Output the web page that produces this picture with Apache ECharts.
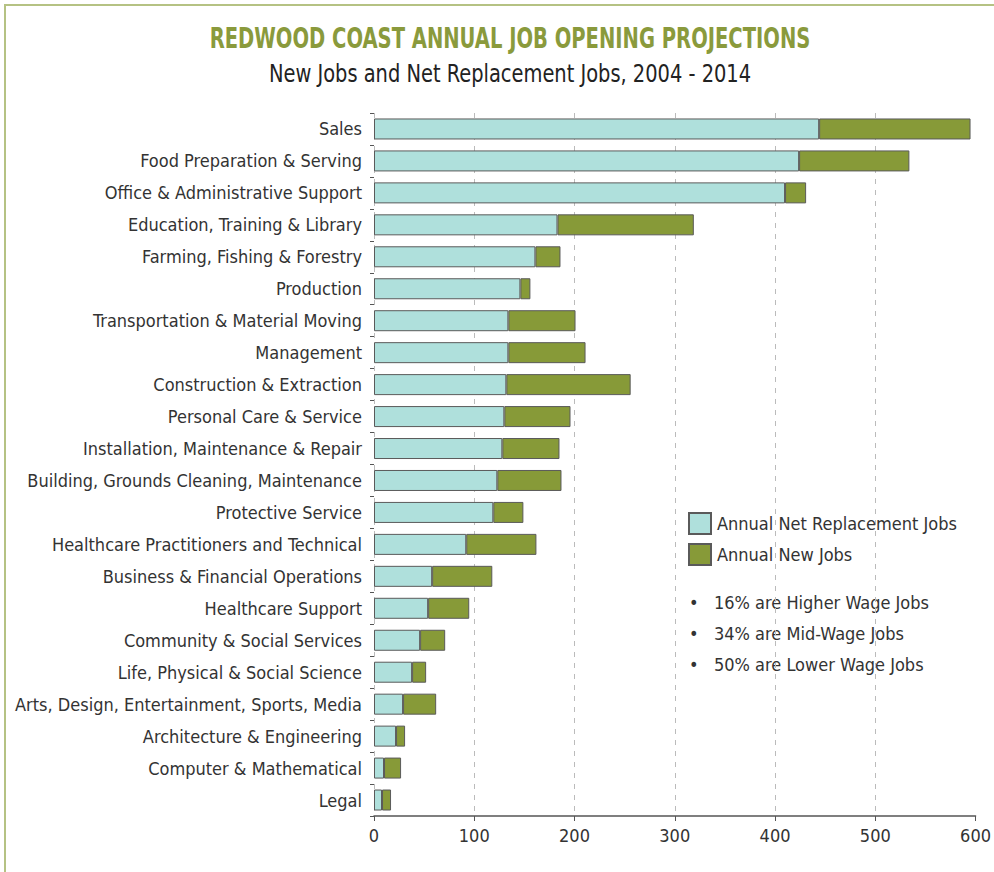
<!DOCTYPE html>
<html>
<head>
<meta charset="utf-8">
<script src="https://cdn.jsdelivr.net/npm/echarts@6/dist/echarts.min.js"></script>
<style>
html,body{margin:0;padding:0;background:#fff;}
#chart{width:994px;height:872px;}
</style>
</head>
<body>
<div id="chart"></div>
<script>
const categories = [
  "Sales",
  "Food Preparation & Serving",
  "Office & Administrative Support",
  "Education, Training & Library",
  "Farming, Fishing & Forestry",
  "Production",
  "Transportation & Material Moving",
  "Management",
  "Construction & Extraction",
  "Personal Care & Service",
  "Installation, Maintenance & Repair",
  "Building, Grounds Cleaning, Maintenance",
  "Protective Service",
  "Healthcare Practitioners and Technical",
  "Business & Financial Operations",
  "Healthcare Support",
  "Community & Social Services",
  "Life, Physical & Social Science",
  "Arts, Design, Entertainment, Sports, Media",
  "Architecture & Engineering",
  "Computer & Mathematical",
  "Legal"
];
const replacementJobs = [444,424,410,183,161,146,134,134,132,130,128,123,119,92,58,54,46,38,29,22,10,8];
const newJobs = [151,110,21,136,25,10,67,77,124,66,57,64,30,70,60,41,25,14,33,9,17,9];
const xTicks = [0,100,200,300,400,500,600];
const seriesNames = ["Annual Net Replacement Jobs","Annual New Jobs"];
const notes = ["16% are Higher Wage Jobs","34% are Mid-Wage Jobs","50% are Lower Wage Jobs"];
const titleText = 'REDWOOD COAST ANNUAL JOB OPENING PROJECTIONS';
const subtitleText = 'New Jobs and Net Replacement Jobs, 2004 - 2014';

const FONT = '"Liberation Sans Narrow","DejaVu Sans Condensed","DejaVu Sans",sans-serif';
const chart = echarts.init(document.getElementById('chart'), null, {renderer:'svg'});
const option = {
  backgroundColor:'#ffffff',
  animation:false,
  textStyle:{fontFamily:FONT},
  legend:{
    orient:'vertical', left:683, top:507, itemWidth:22, itemHeight:21, itemGap:8,
    icon:'rect',
    data:seriesNames,
    textStyle:{fontFamily:FONT, fontSize:18, color:'#333', padding:[0,0,0,1]}
  },
  grid:{left:374, right:16, top:113, bottom:56, containLabel:false},
  xAxis:{
    type:'value', min:0, max:600, interval:100,
    axisLine:{show:true, lineStyle:{color:'#555', width:1.5}},
    axisTick:{show:true, length:5, lineStyle:{color:'#555'}},
    axisLabel:{fontFamily:FONT, fontSize:18, color:'#333', margin:10,
      formatter:v => xTicks.includes(v) ? String(v) : ''},
    splitLine:{show:true, showMaxLine:false, lineStyle:{color:'#bbb', type:[5,6], width:1}}
  },
  yAxis:{
    type:'category', data:categories, inverse:true,
    axisLine:{show:false},
    axisTick:{show:true, length:4, lineStyle:{color:'#555'}},
    axisLabel:{fontFamily:FONT, fontSize:18, color:'#333', margin:12}
  },
  series:[
    {name:seriesNames[0], type:'bar', stack:'total', data:replacementJobs, barWidth:21,
     itemStyle:{color:'#afe0dc', borderColor:'#5a5a5a', borderWidth:1}},
    {name:seriesNames[1], type:'bar', stack:'total', data:newJobs, barWidth:21,
     itemStyle:{color:'#879a38', borderColor:'#5a5a5a', borderWidth:1}}
  ],
  graphic:[
    {type:'rect', shape:{x:5, y:5, width:1100, height:1000}, style:{fill:'none', stroke:'#b5c283', lineWidth:2}, silent:true},
    {type:'text', x:510, y:39, scaleX:0.776, silent:true,
     style:{text:titleText, font:'bold 28px ' + FONT, fill:'#8a9a3c', textAlign:'center', textVerticalAlign:'middle'}},
    {type:'text', x:510, y:74, scaleX:0.9, silent:true,
     style:{text:subtitleText, font:'24px ' + FONT, fill:'#222', textAlign:'center', textVerticalAlign:'middle'}},
    ...notes.map((t,i) => ({type:'text', left:689, top:593 + i*31,
      style:{text:'\u2022   ' + t, font:'18px ' + FONT, fill:'#333'}}))
  ]
};
chart.setOption(option);
</script>
</body>
</html>
